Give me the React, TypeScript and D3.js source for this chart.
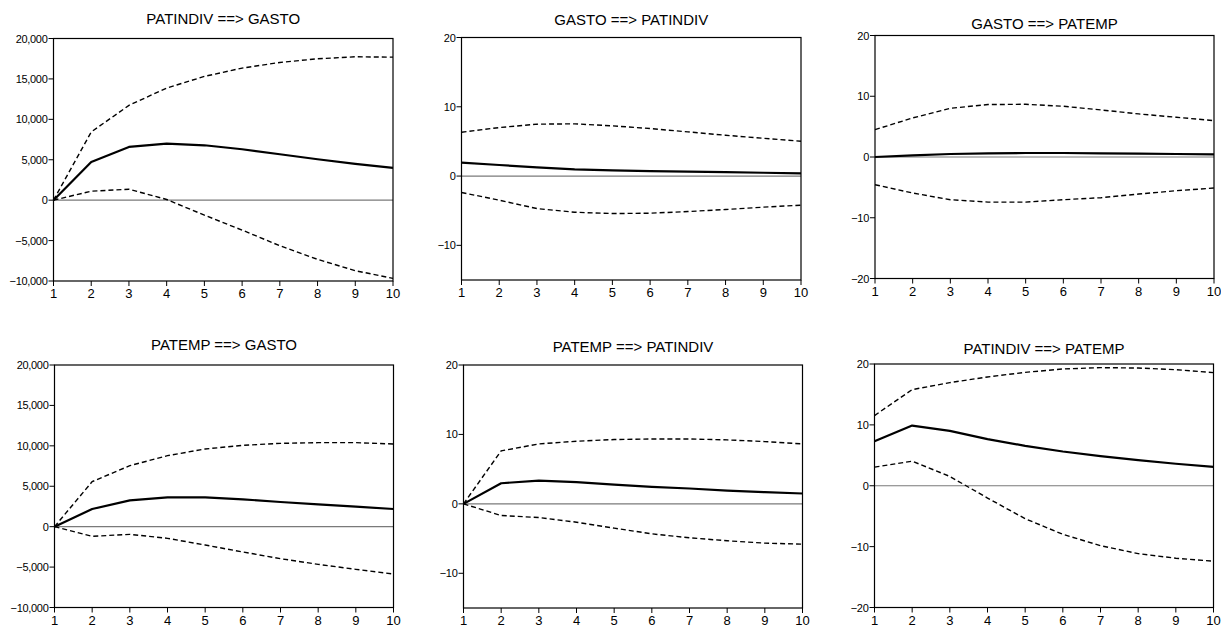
import React from "react";
import * as d3 from "d3";

const periods = [1, 2, 3, 4, 5, 6, 7, 8, 9, 10];

// PATINDIV ==> GASTO
const p1Resp = [0, 4733, 6584, 6996, 6790, 6296, 5679, 5062, 4486, 3992];
const p1Upper = [0, 8436, 11728, 13868, 15309, 16337, 17037, 17490, 17737, 17695];
const p1Lower = [0, 1111, 1358, 82, -1852, -3704, -5638, -7325, -8724, -9671];

// GASTO ==> PATINDIV
const p2Resp = [1.93, 1.6, 1.26, 0.97, 0.82, 0.72, 0.63, 0.58, 0.48, 0.39];
const p2Upper = [6.33, 7.0, 7.49, 7.54, 7.25, 6.86, 6.38, 5.89, 5.46, 5.02];
const p2Lower = [-2.37, -3.48, -4.69, -5.22, -5.41, -5.36, -5.12, -4.83, -4.49, -4.2];

// GASTO ==> PATEMP
const p3Resp = [0, 0.27, 0.49, 0.6, 0.66, 0.66, 0.6, 0.55, 0.49, 0.44];
const p3Upper = [4.5, 6.43, 8.02, 8.63, 8.68, 8.35, 7.75, 7.09, 6.54, 5.99];
const p3Lower = [-4.56, -5.93, -7.03, -7.42, -7.42, -7.03, -6.7, -6.1, -5.55, -5.11];

// PATEMP ==> GASTO
const p4Resp = [0, 2186, 3258, 3629, 3629, 3381, 3052, 2763, 2474, 2186];
const p4Upper = [0, 5567, 7546, 8784, 9608, 10062, 10309, 10392, 10392, 10227];
const p4Lower = [0, -1196, -948, -1443, -2268, -3134, -3959, -4660, -5278, -5856];

// PATEMP ==> PATINDIV
const p5Resp = [0, 2.97, 3.36, 3.12, 2.78, 2.45, 2.21, 1.92, 1.68, 1.49];
const p5Upper = [0, 7.63, 8.63, 9.02, 9.26, 9.35, 9.35, 9.21, 8.97, 8.63];
const p5Lower = [0, -1.68, -1.97, -2.64, -3.5, -4.32, -4.89, -5.32, -5.66, -5.8];

// PATINDIV ==> PATEMP
const p6Resp = [7.32, 9.89, 9.02, 7.65, 6.56, 5.63, 4.86, 4.21, 3.61, 3.11];
const p6Upper = [11.53, 15.79, 16.94, 17.87, 18.63, 19.18, 19.4, 19.34, 19.07, 18.58];
const p6Lower = [3.06, 4.04, 1.53, -2.02, -5.41, -7.98, -9.84, -11.15, -11.91, -12.4];

const titles = [
  "PATINDIV ==> GASTO",
  "GASTO ==> PATINDIV",
  "GASTO ==> PATEMP",
  "PATEMP ==> GASTO",
  "PATEMP ==> PATINDIV",
  "PATINDIV ==> PATEMP",
];

const ticksLarge = [-10000, -5000, 0, 5000, 10000, 15000, 20000];
const ticksMid = [-10, 0, 10, 20];
const ticksSym = [-20, -10, 0, 10, 20];

type Panel = {
  title: string;
  resp: number[];
  upper: number[];
  lower: number[];
  domain: [number, number];
  ticks: number[];
  box: { l: number; r: number; t: number; b: number };
  titleY: number;
};

const panels: Panel[] = [
  { title: titles[0], resp: p1Resp, upper: p1Upper, lower: p1Lower, domain: [-10000, 20000], ticks: ticksLarge, box: { l: 53.5, r: 393, t: 38.5, b: 281 }, titleY: 24 },
  { title: titles[1], resp: p2Resp, upper: p2Upper, lower: p2Lower, domain: [-15, 20], ticks: ticksMid, box: { l: 461.5, r: 801, t: 37.5, b: 280 }, titleY: 25 },
  { title: titles[2], resp: p3Resp, upper: p3Upper, lower: p3Lower, domain: [-20, 20], ticks: ticksSym, box: { l: 875, r: 1214, t: 35.5, b: 278.5 }, titleY: 29 },
  { title: titles[3], resp: p4Resp, upper: p4Upper, lower: p4Lower, domain: [-10000, 20000], ticks: ticksLarge, box: { l: 54.5, r: 393.5, t: 365, b: 607.5 }, titleY: 350 },
  { title: titles[4], resp: p5Resp, upper: p5Upper, lower: p5Lower, domain: [-15, 20], ticks: ticksMid, box: { l: 463.5, r: 802.5, t: 365, b: 608 }, titleY: 352 },
  { title: titles[5], resp: p6Resp, upper: p6Upper, lower: p6Lower, domain: [-20, 20], ticks: ticksSym, box: { l: 874.5, r: 1213.5, t: 364, b: 607.5 }, titleY: 354 },
];

const FONT = "Arial, 'Liberation Sans', Helvetica, sans-serif";
const fmt = d3.format(",");

function PanelView({ p }: { p: Panel }) {
  const { l, r, t, b } = p.box;
  const x = d3.scaleLinear().domain([1, 10]).range([l, r]);
  const y = d3.scaleLinear().domain(p.domain).range([b, t]);
  const line = d3
    .line<number>()
    .x((_, i) => x(periods[i]))
    .y((d) => y(d));
  return (
    <g>
      <text x={(l + r) / 2} y={p.titleY} textAnchor="middle" fontSize={15} fontFamily={FONT} fill="#000">
        {p.title}
      </text>
      <line x1={l} x2={r} y1={y(0)} y2={y(0)} stroke="#7a7a7a" strokeWidth={1.2} />
      <path d={line(p.upper) || ""} fill="none" stroke="#000" strokeWidth={1.4} strokeDasharray="5,3" />
      <path d={line(p.lower) || ""} fill="none" stroke="#000" strokeWidth={1.4} strokeDasharray="5,3" />
      <path d={line(p.resp) || ""} fill="none" stroke="#000" strokeWidth={2.2} strokeLinejoin="round" />
      <rect x={l} y={t} width={r - l} height={b - t} fill="none" stroke="#000" strokeWidth={1.2} />
      {p.ticks.map((v) => (
        <g key={v}>
          <line x1={l - 5} x2={l} y1={y(v)} y2={y(v)} stroke="#000" strokeWidth={1} />
          <text x={l - 6} y={y(v) + 4} textAnchor="end" fontSize={11} fontFamily={FONT} fill="#000" letterSpacing={-0.3}>
            {fmt(v)}
          </text>
        </g>
      ))}
      {periods.map((v) => (
        <g key={v}>
          <line x1={x(v)} x2={x(v)} y1={b} y2={b + 5} stroke="#000" strokeWidth={1} />
          <text x={x(v)} y={b + 17} textAnchor="middle" fontSize={13} fontFamily={FONT} fill="#000">
            {v}
          </text>
        </g>
      ))}
    </g>
  );
}

export default function App() {
  return (
    <svg
      width={1221}
      height={632}
      style={{ position: "absolute", left: 0, top: 0, background: "#fff", overflow: "hidden" }}
    >
      <rect x={0} y={0} width={1221} height={632} fill="#fff" />
      {panels.map((p, i) => (
        <PanelView key={i} p={p} />
      ))}
    </svg>
  );
}
